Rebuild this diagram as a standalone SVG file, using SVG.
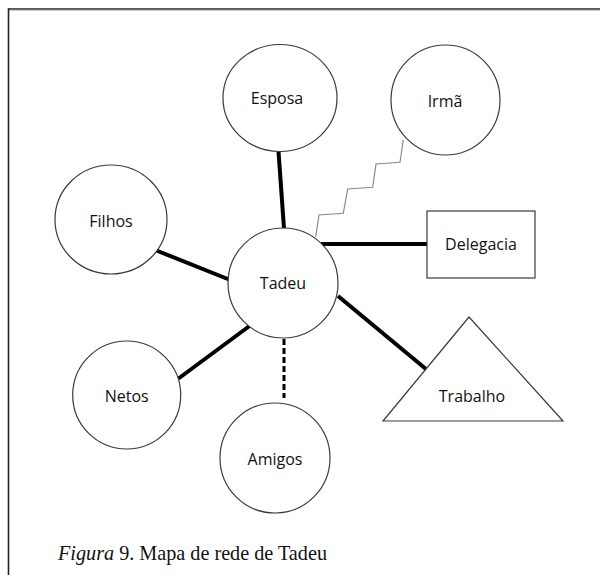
<svg xmlns="http://www.w3.org/2000/svg" width="600" height="575" viewBox="0 0 600 575">
  <style>
    .node { fill: #ffffff; stroke: #3a3a3a; stroke-width: 1.2; }
    .label { font-family: "Open Sans", "Liberation Sans", sans-serif; font-size: 16px; fill: #111111; text-anchor: middle; }
    .tie { stroke: #000000; stroke-width: 4; fill: none; }
    .weak { stroke: #000000; stroke-width: 3; stroke-dasharray: 6 3; fill: none; }
    .conflict { stroke: #8a8a8a; stroke-width: 1.2; fill: none; }
    .caption { font-family: "Liberation Serif", "Times New Roman", serif; font-size: 20.2px; fill: #111111; }
  </style>
  <rect x="0" y="0" width="600" height="575" fill="#ffffff"/>

  <!-- frame: top and left rules -->
  <g id="frame">
    <line x1="8.5" y1="9" x2="600" y2="9" stroke="#222222" stroke-width="1.6"/>
    <line x1="9" y1="10.3" x2="600" y2="10.3" stroke="#bdbdbd" stroke-width="1"/>
    <line x1="8.5" y1="8.2" x2="8.5" y2="575" stroke="#222222" stroke-width="1.6"/>
  </g>

  <!-- connectors -->
  <g id="connectors">
    <line class="tie" x1="278.5" y1="151.5" x2="284" y2="228.5"/>
    <line class="tie" x1="156.5" y1="250.5" x2="229" y2="279.5"/>
    <line class="tie" x1="178.5" y1="378.5" x2="249.5" y2="326"/>
    <line class="tie" x1="321" y1="244" x2="427" y2="244"/>
    <line class="tie" x1="338" y1="296" x2="426.5" y2="369.5"/>
    <line class="weak" x1="284" y1="339" x2="284" y2="398"/>
    <polyline class="conflict" points="315.7,236.7 319,215 343.3,213.3 347.7,189 372.7,187.3 376,164 400,162.3 403.3,140"/>
  </g>

  <g id="esposa">
    <ellipse class="node" cx="280" cy="98" rx="57" ry="53.5"/>
    <text class="label" x="277" y="104">Esposa</text>
  </g>
  <g id="irma">
    <ellipse class="node" cx="445.5" cy="100" rx="54.5" ry="55"/>
    <text class="label" x="445" y="107">Irmã</text>
  </g>
  <g id="filhos">
    <ellipse class="node" cx="111" cy="219.5" rx="56" ry="54.5"/>
    <text class="label" x="111" y="227">Filhos</text>
  </g>
  <g id="tadeu">
    <circle class="node" cx="283" cy="283" r="55"/>
    <text class="label" x="283" y="289">Tadeu</text>
  </g>
  <g id="delegacia">
    <rect class="node" x="427" y="211" width="108" height="67"/>
    <text class="label" x="481" y="250">Delegacia</text>
  </g>
  <g id="netos">
    <circle class="node" cx="126.7" cy="395" r="54"/>
    <text class="label" x="126.7" y="402">Netos</text>
  </g>
  <g id="amigos">
    <circle class="node" cx="275" cy="458" r="55"/>
    <text class="label" x="275" y="465">Amigos</text>
  </g>
  <g id="trabalho">
    <polygon class="node" points="469,317 563,421 383,421"/>
    <text class="label" x="472" y="402">Trabalho</text>
  </g>

  <text class="caption" x="58" y="560"><tspan font-style="italic">Figura</tspan> 9. Mapa de rede de Tadeu</text>
</svg>
